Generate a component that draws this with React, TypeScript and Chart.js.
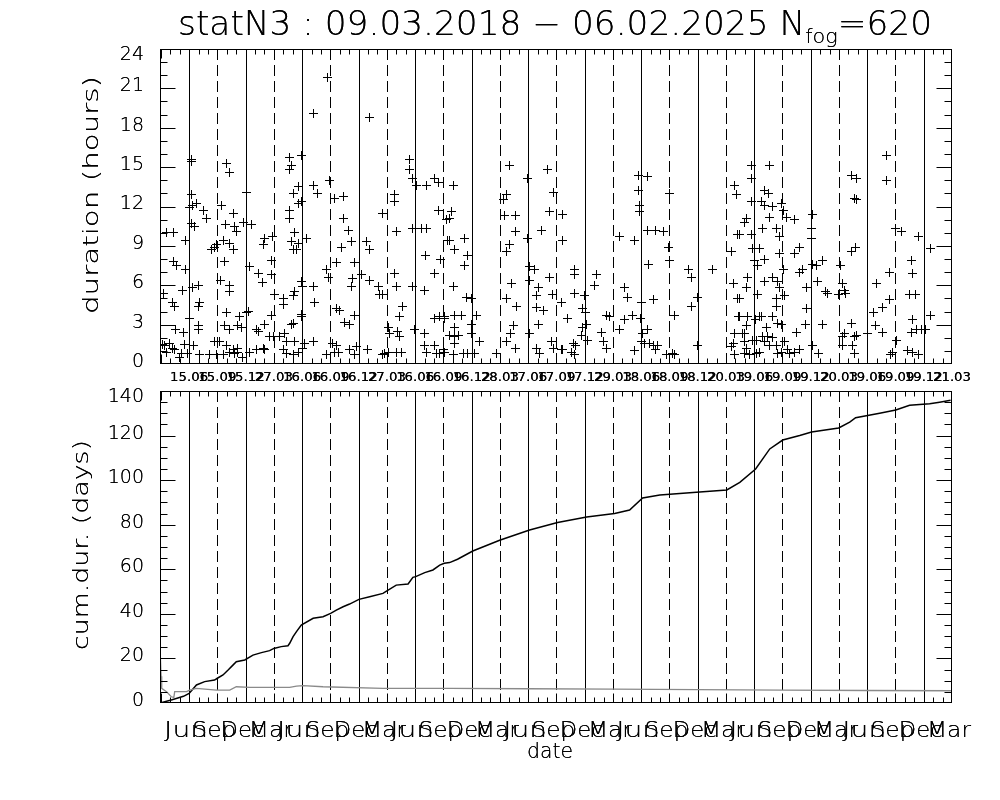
import React, { useEffect, useRef } from "react";
import { Chart, registerables } from "chart.js";
Chart.register(...registerables);

// ---------------- data ----------------
const TITLE_MAIN = "statN3 : 09.03.2018 \u2212 06.02.2025 N";
const TITLE_SUB = "fog";
const TITLE_END = "=620";

// x unit: season index (0 = first "15.06" line, one unit per quarter)
const X_MIN = -1.03;
const X_MAX = 27;

const seasonTickLabels = [
  "15.06", "15.09", "15.12", "27.03", "16.06", "16.09", "16.12", "27.03",
  "16.06", "16.09", "16.12", "28.03", "17.06", "17.09", "17.12", "29.03",
  "18.06", "18.09", "18.12", "20.03", "19.06", "19.09", "19.12", "20.03",
  "19.06", "19.09", "19.12", "21.03",
];
const monthTickLabels = [
  "Jun", "Sep", "Dec", "Mar", "Jun", "Sep", "Dec", "Mar", "Jun", "Sep", "Dec", "Mar",
  "Jun", "Sep", "Dec", "Mar", "Jun", "Sep", "Dec", "Mar", "Jun", "Sep", "Dec", "Mar",
  "Jun", "Sep", "Dec", "Mar",
];
const durationTicks = [0, 3, 6, 9, 12, 15, 18, 21, 24];
const cumTicks = [0, 20, 40, 60, 80, 100, 120, 140];

// fog events: [season index, duration in hours]
const fogEvents: [number, number][] = [
  [-0.92, 5.4], [-0.8, 10.0], [-0.54, 10.0], [-0.12, 9.4], [-0.54, 7.8], [-0.45, 7.5], [-0.12, 7.2], [-0.24, 5.6],
  [-0.59, 4.7], [-0.51, 4.4], [-0.47, 2.6], [-0.21, 2.4], [-0.86, 1.4], [-0.68, 1.6], [-0.15, 1.5], [-0.51, 1.1],
  [-0.8, 0.9], [-0.27, 0.8], [-0.04, 0.8], [-0.95, 1.5], [-0.6, 1.2], [-0.35, 0.5],
  [0.08, 15.6], [0.1, 15.4], [0.08, 12.9], [0.12, 12.1], [0.26, 12.2], [0.5, 11.7], [0.61, 11.1], [0.08, 10.7], [0.2, 10.5],
  [0.32, 6.0], [0.12, 5.8], [0.38, 4.7], [0.32, 4.4], [0.02, 3.5], [0.32, 2.9], [0.32, 2.6], [0.14, 1.4],
  [0.38, 0.7], [0.73, 0.7], [0.91, 1.7], [0.97, 0.7], [0.79, 8.7], [0.91, 8.9], [0.97, 9.1], [0.0, 11.9],
  [1.34, 15.3], [1.44, 14.6], [1.14, 12.1], [1.56, 11.5], [1.3, 10.6], [1.62, 10.5], [1.67, 10.1], [1.91, 10.8],
  [1.23, 9.4], [1.44, 9.2], [1.56, 8.7], [1.26, 7.8], [1.12, 6.4], [1.44, 6.0], [1.42, 5.5], [1.32, 3.9],
  [1.77, 3.6], [1.85, 2.8], [2.03, 3.9], [1.26, 2.9], [1.44, 2.6], [1.73, 2.9], [1.08, 1.7], [1.32, 1.4],
  [1.44, 0.9], [1.56, 1.1], [1.62, 0.8], [1.73, 1.2], [1.73, 0.9], [1.23, 0.7], [1.9, 0.5],
  [2.03, 13.1], [2.21, 10.6], [2.68, 9.6], [2.95, 9.7], [2.62, 9.1], [2.91, 7.9], [2.15, 7.4], [2.44, 6.9],
  [2.91, 6.8], [2.59, 6.2], [2.09, 4.0], [2.38, 2.6], [2.68, 3.0], [2.44, 2.5], [2.15, 0.9], [2.38, 1.1],
  [2.62, 1.2], [2.68, 1.1], [2.85, 2.1], [2.97, 2.1], [2.91, 3.7], [3.03, 5.3], [3.33, 5.0], [3.33, 4.5],
  [3.68, 5.2], [3.74, 5.5],
  [3.54, 15.7], [3.97, 15.9], [3.62, 15.1], [3.54, 14.8], [3.86, 13.5], [3.68, 13.0], [3.86, 12.2], [3.97, 12.4],
  [3.56, 11.7], [3.56, 11.1], [3.74, 10.0], [3.62, 9.3], [3.86, 9.2], [4.15, 9.6], [3.68, 8.7], [3.8, 8.7],
  [4.03, 5.9], [3.97, 6.3], [3.97, 3.8], [3.98, 3.6], [3.68, 3.1], [3.62, 3.0], [3.38, 2.3], [3.21, 2.1], [3.44, 1.7],
  [3.74, 1.7], [4.03, 1.2], [3.86, 0.9], [3.68, 0.7], [3.44, 0.8], [3.33, 1.1],
  [4.89, 21.8], [4.39, 19.1], [4.39, 13.6], [4.56, 13.0], [4.98, 14.0], [4.39, 5.9], [4.86, 7.2], [4.92, 6.6],
  [4.45, 4.7], [4.39, 1.7], [4.09, 1.6], [4.86, 0.7], [5.15, 0.9],
  [5.15, 12.6], [5.45, 12.8], [5.45, 11.1], [5.63, 10.2], [5.39, 8.9], [5.74, 9.3], [5.21, 7.7], [5.86, 7.7],
  [5.8, 6.5], [5.74, 5.9], [5.21, 4.2], [5.33, 4.1], [5.86, 3.7], [5.51, 3.2], [5.68, 3.0], [5.09, 1.6],
  [5.21, 1.4], [5.27, 0.9], [5.68, 1.1], [5.92, 1.3], [5.86, 0.7],
  [6.39, 18.8], [6.27, 9.3], [6.39, 8.7], [6.1, 6.8], [6.39, 6.4], [6.69, 5.9], [6.86, 5.3], [6.75, 5.3],
  [7.04, 2.8], [6.33, 1.1], [6.86, 0.7], [6.92, 0.8], [7.04, 0.9],
  [7.81, 15.6], [7.81, 14.8], [7.28, 12.9], [7.28, 12.4], [6.86, 11.5], [7.33, 10.1], [7.28, 6.9], [7.33, 5.9],
  [7.56, 4.4], [7.45, 3.6], [7.1, 2.3], [7.39, 2.5], [7.45, 2.1], [7.33, 0.9], [7.51, 0.9],
  [7.9, 14.1], [8.04, 13.6], [8.4, 13.6], [8.69, 14.1], [8.81, 13.8], [8.81, 11.7], [7.92, 10.3], [8.22, 10.3],
  [8.4, 10.3], [8.37, 8.3], [8.89, 8.0], [8.69, 6.9], [7.92, 5.9], [8.34, 5.6], [8.69, 3.5], [8.87, 3.6],
  [9.04, 3.5], [7.98, 2.6], [8.34, 2.3], [8.34, 1.4], [8.69, 1.4], [8.4, 0.9], [8.75, 0.8], [8.99, 1.1],
  [9.1, 11.0], [9.16, 9.4],
  [9.34, 13.6], [9.28, 11.6], [9.22, 11.1], [9.2, 9.4], [9.76, 9.6], [9.4, 8.7], [9.87, 8.3], [9.76, 7.5],
  [9.34, 5.9], [9.81, 5.1], [9.99, 5.0], [9.05, 3.6], [9.4, 3.7], [9.64, 3.7], [9.4, 2.8], [9.99, 3.0],
  [9.22, 2.2], [9.4, 2.1], [9.52, 2.2], [9.99, 2.3], [9.4, 1.6], [8.87, 0.8], [9.05, 0.9], [9.34, 0.7],
  [9.7, 0.8], [9.87, 0.8], [10.11, 0.8], [10.17, 3.7], [10.28, 1.7], [10.87, 0.8],
  [11.35, 15.1], [11.23, 12.9], [11.11, 12.5], [11.17, 11.3], [11.56, 11.3], [11.56, 10.1], [11.35, 9.1], [11.23, 8.6],
  [11.99, 9.6], [11.4, 6.1], [11.23, 5.0], [11.58, 4.4], [11.49, 2.9], [11.38, 2.3], [11.23, 1.7], [11.56, 1.2],
  [11.99, 14.1], [12.03, 2.3],
  [12.7, 14.8], [12.88, 13.1], [12.74, 11.6], [12.46, 10.2], [12.05, 7.4], [12.21, 7.2], [12.03, 6.4], [12.74, 6.6],
  [12.38, 5.8], [12.29, 5.2], [12.85, 5.3], [12.29, 4.3], [12.56, 4.1], [12.38, 3.0], [12.82, 1.7], [12.29, 1.2],
  [12.41, 0.8], [12.88, 1.2], [13.17, 1.1],
  [13.23, 11.4], [13.23, 9.4], [13.65, 7.2], [13.65, 6.8], [13.65, 5.4], [13.17, 4.7], [13.39, 3.5], [13.92, 4.2],
  [13.98, 5.2], [14.04, 3.9], [14.06, 3.0], [13.94, 2.8], [13.88, 2.2], [13.59, 1.6], [13.68, 1.4], [13.23, 1.1],
  [13.65, 0.7], [13.53, 0.9],
  [14.41, 6.8], [14.35, 6.0], [14.77, 3.7], [14.89, 3.6], [14.59, 2.4], [14.65, 1.7], [14.77, 1.2], [14.09, 1.8],
  [15.24, 9.7], [15.77, 9.4], [15.42, 5.8], [15.53, 5.1], [15.42, 3.4], [15.71, 3.7], [15.98, 3.5], [15.24, 2.6],
  [15.77, 1.0], [15.89, 14.4], [15.89, 13.2], [15.94, 12.1], [15.94, 11.6],
  [16.24, 14.3], [16.24, 10.2], [16.51, 10.2], [16.79, 10.1], [16.95, 8.9], [17.01, 7.9], [16.27, 7.6], [16.42, 4.9],
  [16.0, 4.7], [16.24, 2.6], [16.06, 2.3], [16.0, 1.7], [16.12, 1.6], [16.3, 1.6], [16.42, 1.4], [16.51, 1.1],
  [16.59, 1.4], [16.89, 0.7], [17.12, 0.8], [17.18, 0.7], [17.01, 13.0],
  [17.18, 3.7], [17.66, 7.2], [17.77, 6.6], [17.77, 4.4], [18.01, 5.1], [18.01, 1.4], [18.54, 7.2],
  [19.31, 13.6], [19.36, 12.9], [19.4, 9.9], [19.19, 8.6], [19.28, 6.1], [19.42, 5.0], [19.45, 3.6], [19.31, 2.3],
  [19.25, 1.6], [19.19, 1.3], [19.31, 0.7],
  [19.89, 15.1], [19.89, 14.1], [19.89, 12.4], [19.72, 11.1], [19.66, 10.8], [19.89, 9.9], [19.48, 9.9], [19.95, 8.8],
  [20.01, 7.9], [20.13, 7.5], [19.78, 6.6], [19.72, 5.8], [19.48, 5.0], [19.48, 3.6], [19.78, 3.6], [19.72, 2.9],
  [19.6, 2.3], [19.66, 2.3], [19.66, 1.7], [19.72, 1.2], [19.66, 0.8], [19.84, 0.7], [19.95, 1.8], [20.07, 1.8],
  [20.54, 15.1], [20.37, 13.2], [20.52, 13.0], [20.25, 12.4], [20.37, 12.1], [20.66, 12.0], [20.54, 11.2], [20.31, 10.3],
  [20.78, 10.3], [20.19, 8.8], [20.37, 8.0], [20.9, 9.7], [20.9, 8.4], [20.66, 6.6], [20.84, 6.3], [20.37, 6.3],
  [20.13, 5.3], [20.78, 5.0], [20.8, 4.4], [20.9, 5.8], [20.19, 3.6], [20.25, 3.6], [20.66, 3.6], [20.05, 3.4],
  [20.43, 2.8], [20.31, 2.1], [20.48, 2.1], [20.66, 2.0], [20.37, 1.7], [20.54, 1.4], [20.19, 0.9], [20.07, 0.8],
  [20.84, 3.1], [20.96, 3.0], [20.78, 1.4], [20.84, 0.8], [20.96, 0.9],
  [21.04, 11.7], [21.13, 11.2], [21.43, 11.0], [20.96, 12.2], [21.43, 8.4], [21.6, 8.9], [21.04, 7.2], [21.6, 7.0],
  [21.7, 7.2], [21.07, 5.2], [21.84, 5.8], [21.84, 4.2], [21.82, 3.0], [21.51, 2.4], [21.19, 1.1], [21.25, 0.8],
  [21.43, 0.9], [21.6, 1.1], [21.07, 1.7],
  [22.05, 11.4], [22.02, 10.3], [22.02, 9.6], [22.05, 7.6], [22.19, 7.5], [22.43, 7.9], [22.23, 6.3], [22.52, 5.5],
  [22.61, 5.4], [22.41, 3.0], [22.08, 1.4], [22.29, 0.8],
  [23.04, 7.5], [23.14, 6.1], [23.2, 5.6], [23.23, 5.4], [23.0, 5.3], [23.43, 14.4], [23.61, 14.1], [23.55, 12.6],
  [23.61, 12.5], [23.43, 8.6], [23.58, 8.9], [23.43, 3.1], [23.2, 2.3], [23.14, 2.1], [23.55, 2.1], [23.61, 2.2],
  [23.14, 1.4], [23.49, 1.4], [23.55, 0.8], [24.0, 2.3],
  [24.67, 15.9], [24.67, 14.0], [24.99, 10.3], [24.79, 7.0], [24.34, 6.1], [24.79, 4.9], [24.53, 4.3], [24.22, 3.9],
  [24.29, 2.9], [24.53, 2.4], [25.03, 1.8], [24.91, 0.9], [24.81, 0.7],
  [25.2, 10.1], [25.83, 9.7], [25.56, 7.9], [25.59, 6.9], [25.5, 5.3], [25.71, 5.3], [25.59, 3.4], [25.56, 2.4],
  [25.73, 2.6], [25.91, 2.6], [25.44, 1.0], [25.61, 0.9], [25.81, 0.7],
  [26.23, 8.8], [26.23, 3.7], [26.06, 2.6],
];

// cumulative fog duration (days)
const cumQuarter = [
  -1.03, -0.6, -0.2, 0, 0.26, 0.55, 0.9, 1.0, 1.2, 1.38, 1.56, 1.67, 1.97, 2.26, 2.56, 2.85, 3.0, 3.26, 3.5,
  3.56, 3.68, 3.8, 3.97, 4.39, 4.74, 5.01, 5.21, 5.45, 5.68, 6.01, 6.39, 6.86, 7.0, 7.33, 7.75, 7.92, 8.02,
  8.34, 8.63, 8.87, 9.03, 9.22, 9.5, 10.04, 10.99, 12.05, 13.04, 14.07, 15.06, 15.59, 16.05, 16.66, 18.07,
  19.03, 19.49, 20.05, 20.55, 21.01, 21.61, 22.03, 22.99, 23.38, 23.59, 24.44, 25.01, 25.5, 26.21, 26.56, 26.95,
];
const cumDays = [
  0, 1.5, 3.0, 4.3, 8.1, 9.6, 10.3, 11.1, 12.6, 14.8, 17.1, 18.5, 19.3, 21.5, 22.6, 23.5, 24.5, 25.3, 25.7,
  26.8, 29.8, 32, 35, 38, 38.7, 40.2, 41.7, 43.2, 44.4, 46.5, 47.7, 49.2, 50.3, 52.9, 53.4, 56.4, 56.7,
  58.5, 59.7, 61.9, 62.7, 63, 64.5, 68.2, 73, 77.6, 81, 83.5, 85, 86.6, 92, 93.3, 94.7,
  95.6, 99, 105, 114, 118, 120, 121.6, 123.4, 126, 128, 130, 131.5, 133.6, 134.3, 135, 135.8,
];

// grey reference curve (days)
const meanQuarter = [
  -1.03, -0.99, -0.97, -0.8, -0.63, -0.54, -0.51, -0.09, 0.02, 0.26, 0.97, 1.44, 1.67, 2.15, 3.56, 3.8,
  4.03, 4.74, 6.86, 9.22, 12, 15, 18, 21, 24, 27,
];
const meanDays = [
  25, 12, 6.6, 5.1, 2.8, 2.5, 5.1, 5.1, 5.8, 6.6, 5.8, 5.8, 7.3, 7.0, 7.0, 7.6,
  7.8, 7.3, 6.6, 6.6, 6.4, 6.2, 6.0, 5.8, 5.6, 5.5,
];

// ---------------- drawing helpers ----------------
const FONT = "'DejaVu Sans', 'Liberation Sans', sans-serif";

function drawText(
  ctx: CanvasRenderingContext2D,
  text: string,
  x: number,
  y: number,
  font: string,
  align: "left" | "center" | "right" = "left",
  baseline: CanvasTextBaseline = "alphabetic",
  targetWidth?: number,
  rotate?: number
) {
  ctx.save();
  ctx.font = font;
  ctx.textAlign = "left";
  ctx.textBaseline = baseline;
  ctx.fillStyle = "#000";
  const w = ctx.measureText(text).width;
  const sx = targetWidth ? targetWidth / w : 1;
  ctx.translate(x, y);
  if (rotate) ctx.rotate(rotate);
  ctx.scale(sx, 1);
  const dx = align === "center" ? -w / 2 : align === "right" ? -w : 0;
  ctx.fillText(text, dx, 0);
  ctx.fillText(text, dx, 0);
  ctx.restore();
}

function crisp(v: number) {
  return Math.round(v) + 0.5;
}

function drawSeasonLines(chart: any) {
  const ctx: CanvasRenderingContext2D = chart.ctx;
  const { top, bottom } = chart.chartArea;
  const xs = chart.scales.x;
  ctx.save();
  ctx.strokeStyle = "#000";
  ctx.lineWidth = 1;
  seasonTickLabels.forEach((_, i) => {
    if (i >= seasonTickLabels.length - 1) return;
    const x = crisp(xs.getPixelForValue(i));
    ctx.setLineDash(i % 2 === 0 ? [] : [11, 5]);
    ctx.beginPath();
    ctx.moveTo(x, top);
    ctx.lineTo(x, bottom);
    ctx.stroke();
  });
  ctx.restore();
  ctx.imageSmoothingEnabled = false;
}

function drawFrame(chart: any, yMax: number, yMajor: number, yMinor: number, labels: number[]) {
  const ctx: CanvasRenderingContext2D = chart.ctx;
  const { left, right, top, bottom } = chart.chartArea;
  const xs = chart.scales.x;
  const ys = chart.scales.y;
  const L = crisp(left);
  const R = Math.round(right) - 0.5;
  const T = crisp(top);
  const B = Math.round(bottom) - 0.5;
  ctx.save();
  ctx.strokeStyle = "#000";
  ctx.lineWidth = 1;
  ctx.setLineDash([]);
  ctx.strokeRect(L, T, R - L, B - T);
  ctx.beginPath();
  for (let v = 0; v <= yMax + 1e-6; v += yMinor) {
    let y = crisp(ys.getPixelForValue(v));
    y = Math.min(Math.max(y, T), B);
    const len = Math.abs(v / yMajor - Math.round(v / yMajor)) < 1e-6 ? 15 : 7;
    ctx.moveTo(L, y);
    ctx.lineTo(L + len, y);
    ctx.moveTo(R, y);
    ctx.lineTo(R - len, y);
  }
  for (let k = -3; k <= 81; k++) {
    const q = k / 3;
    if (q < X_MIN - 1e-6 || q > X_MAX + 1e-6) continue;
    const x = Math.min(Math.max(crisp(xs.getPixelForValue(q)), L), R);
    const len = k % 3 === 0 ? 9 : 5;
    ctx.moveTo(x, T);
    ctx.lineTo(x, T + len);
    ctx.moveTo(x, B);
    ctx.lineTo(x, B - len);
  }
  ctx.stroke();
  ctx.restore();
  labels.forEach((v) => {
    let y = ys.getPixelForValue(v) - 2;
    y = Math.max(y, top + 6);
    drawText(ctx, String(v), 144, y, `200 19px ${FONT}`, "right", "middle");
  });
}

const topPlugin = {
  id: "topPanel",
  beforeDatasetsDraw(chart: any) {
    drawSeasonLines(chart);
  },
  afterDraw(chart: any) {
    const ctx: CanvasRenderingContext2D = chart.ctx;
    drawFrame(chart, 24, 3, 1, durationTicks);
    // title with subscript
    ctx.save();
    const big = `200 33px ${FONT}`;
    const small = `200 20px ${FONT}`;
    ctx.font = big;
    const w1 = ctx.measureText(TITLE_MAIN).width;
    const w3 = ctx.measureText(TITLE_END).width;
    ctx.font = small;
    const w2 = ctx.measureText(TITLE_SUB).width;
    const total = w1 + w2 + w3;
    const sx = 754 / total;
    ctx.translate(178, 35);
    ctx.scale(sx, 1);
    ctx.fillStyle = "#000";
    ctx.textBaseline = "alphabetic";
    ctx.textAlign = "left";
    for (let pass = 0; pass < 2; pass++) {
      ctx.font = big;
      ctx.fillText(TITLE_MAIN, 0, 0);
      ctx.font = small;
      ctx.fillText(TITLE_SUB, w1, 8);
      ctx.font = big;
      ctx.fillText(TITLE_END, w1 + w2, 0);
    }
    ctx.restore();
    drawText(ctx, "duration (hours)", 98, 195, `200 22px ${FONT}`, "center", "alphabetic", 238, -Math.PI / 2);
  },
};

const bottomPlugin = {
  id: "bottomPanel",
  beforeDatasetsDraw(chart: any) {
    drawSeasonLines(chart);
  },
  afterDraw(chart: any) {
    const ctx: CanvasRenderingContext2D = chart.ctx;
    const xs = chart.scales.x;
    drawFrame(chart, 140, 20, 5, cumTicks);
    seasonTickLabels.forEach((lab, i) => {
      drawText(ctx, lab, xs.getPixelForValue(i), 11, `12px ${FONT}`, "center", "alphabetic", 38);
    });
    monthTickLabels.forEach((lab, i) => {
      drawText(ctx, lab, xs.getPixelForValue(i) - 3, 367, `200 21px ${FONT}`, "center", "alphabetic", 44);
    });
    drawText(ctx, "date", 550, 388, `200 21px ${FONT}`, "center", "alphabetic", 46);
    drawText(ctx, "cum.dur. (days)", 88, 545 - 370, `200 22px ${FONT}`, "center", "alphabetic", 210, -Math.PI / 2);
  },
};

function baseOptions(padding: any, yMax: number) {
  return {
    responsive: false,
    maintainAspectRatio: false,
    animation: false as const,
    devicePixelRatio: 1,
    events: [] as any[],
    layout: { padding },
    plugins: { legend: { display: false }, tooltip: { enabled: false }, title: { display: false } },
    scales: {
      x: { type: "linear" as const, min: X_MIN, max: X_MAX, display: false },
      y: { type: "linear" as const, min: 0, max: yMax, display: false },
    },
  };
}

function makePlusMarker(): HTMLCanvasElement {
  const c = document.createElement("canvas");
  c.width = 9;
  c.height = 9;
  const g = c.getContext("2d")!;
  g.fillStyle = "#000";
  g.fillRect(0, 4, 9, 1);
  g.fillRect(4, 0, 1, 9);
  return c;
}

export default function App() {
  const topRef = useRef<HTMLCanvasElement>(null);
  const botRef = useRef<HTMLCanvasElement>(null);

  useEffect(() => {
    const plus = makePlusMarker();
    const top = new Chart(topRef.current!, {
      type: "scatter",
      data: {
        datasets: [
          {
            data: fogEvents.map(([x, y]) => ({ x, y })),
            pointStyle: plus as any,
            pointRadius: 4,
            borderColor: "#000",
            backgroundColor: "#000",
            borderWidth: 1,
          },
        ],
      },
      options: baseOptions({ left: 160, right: 48, top: 49, bottom: 6 }, 24) as any,
      plugins: [topPlugin],
    });
    const bottom = new Chart(botRef.current!, {
      type: "scatter",
      data: {
        datasets: [
          {
            data: meanQuarter.map((x, i) => ({ x, y: meanDays[i] })),
            showLine: true,
            pointRadius: 0,
            borderColor: "#8a8a8a",
            borderWidth: 1.3,
          },
          {
            data: cumQuarter.map((x, i) => ({ x, y: cumDays[i] })),
            showLine: true,
            pointRadius: 0,
            borderColor: "#000",
            borderWidth: 1.5,
          },
        ],
      },
      options: baseOptions({ left: 160, right: 48, top: 21, bottom: 97 }, 140) as any,
      plugins: [bottomPlugin],
    });
    return () => {
      top.destroy();
      bottom.destroy();
    };
  }, []);

  return (
    <div style={{ position: "absolute", left: 0, top: 0, width: 1000, height: 800, background: "#fff" }}>
      <canvas ref={topRef} width={1000} height={370} style={{ position: "absolute", left: 0, top: 0, display: "block" }} />
      <canvas ref={botRef} width={1000} height={430} style={{ position: "absolute", left: 0, top: 370, display: "block" }} />
    </div>
  );
}
